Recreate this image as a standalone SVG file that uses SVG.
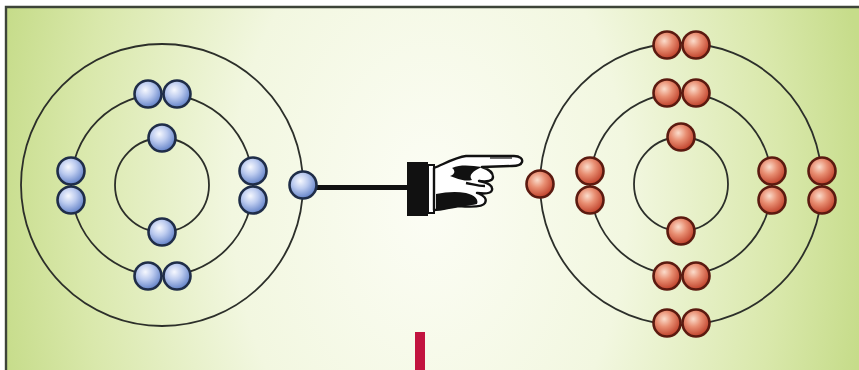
<svg xmlns="http://www.w3.org/2000/svg" width="859" height="370" viewBox="0 0 859 370">
  <defs>
    <radialGradient id="bg" gradientUnits="userSpaceOnUse" cx="430" cy="200" r="440" gradientTransform="translate(430 200) scale(1 1.5) translate(-430 -200)">
      <stop offset="0" stop-color="#fcfdf5"/>
      <stop offset="0.45" stop-color="#f2f7e0"/>
      <stop offset="0.8" stop-color="#d9e8ab"/>
      <stop offset="1" stop-color="#c6dc8a"/>
    </radialGradient>
    <radialGradient id="blueBall" cx="40%" cy="35%" r="65%">
      <stop offset="0" stop-color="#f6f8fe"/>
      <stop offset="0.45" stop-color="#bccbef"/>
      <stop offset="1" stop-color="#6483c8"/>
    </radialGradient>
    <radialGradient id="redBall" cx="40%" cy="35%" r="65%">
      <stop offset="0" stop-color="#fbdccb"/>
      <stop offset="0.45" stop-color="#e88e72"/>
      <stop offset="1" stop-color="#c0422c"/>
    </radialGradient>
    <circle id="eb" r="13.5" fill="url(#blueBall)" stroke="#1f2d48" stroke-width="2.6"/>
    <circle id="er" r="13.5" fill="url(#redBall)" stroke="#5b1a10" stroke-width="2.6"/>
  </defs>
  <style>
    .orbit { fill: none; stroke: #2c2f2a; stroke-width: 1.8; }
    .ink { fill: #111; }
    .hand { fill: #fff; stroke: #111; stroke-width: 2.4; stroke-linejoin: round; }
  </style>

  <!-- page and framed panel -->
  <rect width="859" height="370" fill="#ffffff"/>
  <rect x="6" y="7" width="860" height="370" fill="url(#bg)"/>
  <path d="M6 370 V7 H859" fill="none" stroke="#3d4438" stroke-width="2.4"/>

  <!-- blue atom -->
  <g id="atom-blue">
    <circle class="orbit" cx="162" cy="185" r="141"/>
    <circle class="orbit" cx="162" cy="185" r="91"/>
    <circle class="orbit" cx="162" cy="185" r="47"/>
    <use href="#eb" x="162" y="138"/>
    <use href="#eb" x="162" y="232"/>
    <use href="#eb" x="148" y="94"/>
    <use href="#eb" x="177" y="94"/>
    <use href="#eb" x="148" y="276"/>
    <use href="#eb" x="177" y="276"/>
    <use href="#eb" x="71" y="171"/>
    <use href="#eb" x="71" y="200"/>
    <use href="#eb" x="253" y="171"/>
    <use href="#eb" x="253" y="200"/>
  </g>

  <!-- connectors -->
  <g id="connectors">
    <line x1="303" y1="187.5" x2="410" y2="187.5" stroke="#111" stroke-width="5"/>
  </g>

  <!-- electron being pulled across -->
  <g id="electron-moving">
    <use href="#eb" x="303" y="185"/>
  </g>

  <!-- pointing hand -->
  <g id="hand">
    <rect class="ink" x="407" y="162" width="21" height="54"/>
    <rect x="428" y="165" width="6" height="48" fill="#fff" stroke="#111" stroke-width="2"/>
    <path class="hand" d="M434 168 C444 164 456 157 466 156 L514 156 C520 156 523 159 522 162 C521 165 517 166 512 166 L482 167 C488 169 493 172 493 177 C493 181 487 182 479 181 C489 183 493 186 492 190 C491 194 485 194 477 193 C485 196 487 199 485 203 C483 207 471 207 459 206 C451 207 441 210 434 210 Z"/>
    <path class="ink" d="M452 168 C462 164 472 166 482 167 C473 171 468 175 472 180 C463 182 457 178 450 176 C456 174 455 170 452 168 Z"/>
    <path class="ink" d="M436 194 C446 192 456 191 466 193 C475 195 479 200 477 204 C469 206 454 207 441 210 L436 210 Z"/>
    <path d="M466 183 C472 184 478 186 485 186" fill="none" stroke="#111" stroke-width="2.4"/>
    <path d="M490 158 L512 158" fill="none" stroke="#111" stroke-width="1.2"/>
  </g>

  <!-- red atom -->
  <g id="atom-red">
    <circle class="orbit" cx="681" cy="184" r="141"/>
    <circle class="orbit" cx="681" cy="184" r="91"/>
    <circle class="orbit" cx="681" cy="184" r="47"/>
    <use href="#er" x="681" y="137"/>
    <use href="#er" x="681" y="231"/>
    <use href="#er" x="667" y="93"/>
    <use href="#er" x="696" y="93"/>
    <use href="#er" x="667" y="276"/>
    <use href="#er" x="696" y="276"/>
    <use href="#er" x="667" y="45"/>
    <use href="#er" x="696" y="45"/>
    <use href="#er" x="667" y="323"/>
    <use href="#er" x="696" y="323"/>
    <use href="#er" x="590" y="171"/>
    <use href="#er" x="590" y="200"/>
    <use href="#er" x="772" y="171"/>
    <use href="#er" x="772" y="200"/>
    <use href="#er" x="822" y="171"/>
    <use href="#er" x="822" y="200"/>
    <use href="#er" x="540" y="184"/>
  </g>

  <!-- red marker at bottom -->
  <rect id="marker" x="415" y="332" width="10" height="38" fill="#c2143f"/>
</svg>
